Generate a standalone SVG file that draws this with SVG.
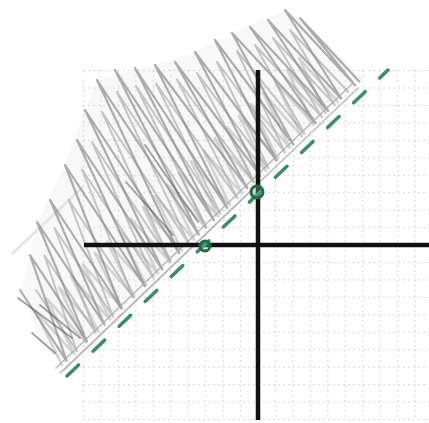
<svg xmlns="http://www.w3.org/2000/svg" width="429" height="423" viewBox="0 0 429 423">
<defs>
<style>
.grid line{stroke:#b8b8b8;stroke-width:0.9;stroke-dasharray:2 3;opacity:0.6}
.axis{stroke:#111;stroke-width:4.5;stroke-linecap:butt}
.scr{fill:none;stroke-linejoin:round;stroke-linecap:round}
.pt{fill:#7fb59a;fill-opacity:0.35;stroke:#1d6b47;stroke-width:3}
</style>
</defs>
<rect width="429" height="423" fill="#fff"/>
<g id="grid" class="grid">
<line x1="83.5" y1="70" x2="83.5" y2="420"/><line x1="101" y1="70" x2="101" y2="420"/><line x1="118.4" y1="70" x2="118.4" y2="420"/><line x1="135.9" y1="70" x2="135.9" y2="420"/><line x1="153.3" y1="70" x2="153.3" y2="420"/><line x1="170.8" y1="70" x2="170.8" y2="420"/><line x1="188.2" y1="70" x2="188.2" y2="420"/><line x1="205.7" y1="70" x2="205.7" y2="420"/><line x1="223.1" y1="70" x2="223.1" y2="420"/><line x1="240.6" y1="70" x2="240.6" y2="420"/><line x1="275.5" y1="70" x2="275.5" y2="420"/><line x1="292.9" y1="70" x2="292.9" y2="420"/><line x1="310.4" y1="70" x2="310.4" y2="420"/><line x1="327.8" y1="70" x2="327.8" y2="420"/><line x1="345.3" y1="70" x2="345.3" y2="420"/><line x1="362.7" y1="70" x2="362.7" y2="420"/><line x1="380.2" y1="70" x2="380.2" y2="420"/><line x1="397.6" y1="70" x2="397.6" y2="420"/><line x1="415.1" y1="70" x2="415.1" y2="420"/>
<line x1="83" y1="70.5" x2="429" y2="70.5"/><line x1="83" y1="88" x2="429" y2="88"/><line x1="83" y1="105.4" x2="429" y2="105.4"/><line x1="83" y1="122.9" x2="429" y2="122.9"/><line x1="83" y1="140.3" x2="429" y2="140.3"/><line x1="83" y1="157.8" x2="429" y2="157.8"/><line x1="83" y1="175.2" x2="429" y2="175.2"/><line x1="83" y1="192.7" x2="429" y2="192.7"/><line x1="83" y1="210.1" x2="429" y2="210.1"/><line x1="83" y1="227.6" x2="429" y2="227.6"/><line x1="83" y1="262.5" x2="429" y2="262.5"/><line x1="83" y1="279.9" x2="429" y2="279.9"/><line x1="83" y1="297.4" x2="429" y2="297.4"/><line x1="83" y1="314.8" x2="429" y2="314.8"/><line x1="83" y1="332.3" x2="429" y2="332.3"/><line x1="83" y1="349.7" x2="429" y2="349.7"/><line x1="83" y1="367.2" x2="429" y2="367.2"/><line x1="83" y1="384.6" x2="429" y2="384.6"/><line x1="83" y1="402.1" x2="429" y2="402.1"/><line x1="83" y1="419.5" x2="429" y2="419.5"/>
</g>
<g id="shading">
<polygon points="22,290 30,255 37,222 65,165 85,110 97,80 155,65 195,52 232,33 285,10 300,18 363,78 66,364 42,348" fill="#e4e4e4" fill-opacity="0.25"/>
<line x1="13" y1="253" x2="83" y2="187" stroke="#e6e6e6" stroke-width="3" stroke-linecap="round"/>
<path class="scr" stroke="#b4b4b4" stroke-opacity="0.55" stroke-width="2.6" d="M62,365.3 L35,310.3 L74,353.8 L47,298.8 L86,342.4 L59,287.4 L98,330.9 L71,275.9 L110,319.5 L83,264.5 L122,308 L95,253 L134,296.6 L107,241.6 L146,285.1 L119,230.1 L158,273.7 L131,218.7 L170,262.2 L143,207.2 L182,250.8 L155,195.8 L194,239.3 L167,184.3 L206,227.9 L179,172.9 L218,216.4 L191,161.4 L230,205 L203,150 L242,193.5 L215,138.5 L254,182.1 L227,127.1 L266,170.6 L239,115.6 L278,159.2 L251,104.2 L290,147.7 L263,92.7 L302,136.3 L275,81.3 L314,124.8 L287,69.8 L326,113.4 L299,58.4 L338,101.9"/>
<path class="scr" stroke="#a2a2a2" stroke-opacity="0.6" stroke-width="2" d="M36,290 L76.8,351.1 L44.5,255.5 L95.8,333 L54.5,228 L113,316.6 L68.5,199.5 L133.1,297.4 L82,169.5 L153.6,277.9 L92,142 L170.8,261.4 L102,112 L189,243.9 L117,92 L206.4,227.4 L136,86 L220.5,214 L156,83.5 L237.3,198.1 L177,79.5 L254,182.1 L197,73 L268.5,168.3 L217,62 L285,152.6 L237,51 L304.6,133.8 L255,45 L322,117 L273,38 L334.8,104.9 L290,30 L348.3,92"/>
<path class="scr" stroke="#8c8c8c" stroke-opacity="0.7" stroke-width="2.2" d="M20,290 L66.6,360.8 L30,255 L86.9,341.4 L37,222 L104.6,324.6 L50,200 L121.4,308.5 L65,165 L144.8,286.2 L77,140 L162.3,269.5 L85,110 L179.3,253.2 L97,80 L198.8,234.6 L115,70 L213.9,220.2 L135,68 L227.1,207.8 L155,65 L247.5,188.3 L175,62 L260.4,175.9 L195,52 L276.5,160.6 L215,40 L293.4,144.6 L232,33 L315.8,123 L250,27 L328.3,111.1 L268,20 L341.3,98.7 L285,10 L355.2,85.4 L300,18 L359.3,81.6"/>
<g stroke="#a8a8a8" stroke-width="1.4" stroke-linecap="round" opacity="0.8">
<line x1="56" y1="368" x2="352" y2="84"/>
<line x1="60" y1="373" x2="358" y2="88"/>
<line x1="64" y1="370" x2="250" y2="192"/>
</g>
<g stroke="#555" stroke-width="1.8" stroke-linecap="round" opacity="0.55">
<line x1="18" y1="298" x2="72" y2="338"/>
<line x1="40" y1="305" x2="80" y2="338"/>
<line x1="32" y1="333" x2="55" y2="353"/>
<line x1="126" y1="182" x2="173" y2="235"/>
<line x1="145" y1="145" x2="198" y2="222"/>
</g>
</g>
<g id="axes">
<line class="axis" x1="84" y1="245" x2="429" y2="245"/>
<line class="axis" x1="258" y1="70" x2="258" y2="420"/>
</g>
<g id="connectors">
<line id="boundary" x1="67" y1="376" x2="388" y2="70" stroke="#3a8d64" stroke-width="3.5" stroke-dasharray="16 20" stroke-linecap="round"/>
</g>
<g id="point-y-intercept"><circle class="pt" cx="257" cy="192" r="6"/></g>
<g id="point-x-intercept"><circle class="pt" cx="205" cy="246" r="5"/></g>
</svg>
